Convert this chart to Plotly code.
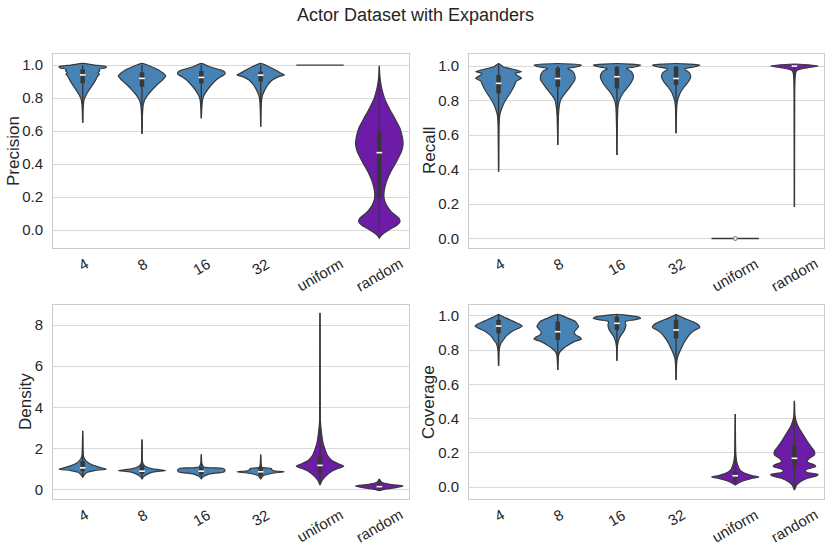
import plotly.graph_objects as go

# ---------------- data ----------------
categories = ["4", "8", "16", "32", "uniform", "random"]
metrics = ["Precision", "Recall", "Density", "Coverage"]

# violin outlines: value levels (top -> bottom) and relative half-widths (1 = widest)
precision_4_y = [1.01, 1.0, 0.99, 0.982, 0.975, 0.965, 0.955, 0.945, 0.93, 0.91, 0.88, 0.85, 0.82, 0.79, 0.76, 0.72, 0.68, 0.65]
precision_4_w = [0.0, 0.5, 1.0, 0.95, 0.7, 0.72, 0.65, 0.7, 0.62, 0.55, 0.42, 0.28, 0.15, 0.06, 0.03, 0.015, 0.01, 0.0]
precision_8_y = [1.01, 0.99, 0.97, 0.95, 0.935, 0.909, 0.879, 0.848, 0.818, 0.788, 0.758, 0.70, 0.64, 0.582]
precision_8_w = [0.0, 0.4, 0.7, 0.9, 1.0, 0.86, 0.62, 0.42, 0.24, 0.11, 0.05, 0.02, 0.01, 0.0]
precision_16_y = [1.01, 0.99, 0.97, 0.96, 0.945, 0.93, 0.909, 0.879, 0.848, 0.818, 0.788, 0.74, 0.677]
precision_16_w = [0.0, 0.35, 0.83, 0.97, 1.0, 0.83, 0.62, 0.42, 0.25, 0.12, 0.05, 0.02, 0.0]
precision_32_y = [1.01, 0.99, 0.97, 0.95, 0.94, 0.93, 0.909, 0.879, 0.848, 0.818, 0.788, 0.72, 0.626]
precision_32_w = [0.0, 0.35, 0.62, 0.86, 1.0, 0.76, 0.49, 0.3, 0.17, 0.08, 0.04, 0.015, 0.0]
precision_uniform_y = [1.0]
precision_uniform_w = [1.0]
precision_random_y = [0.99, 0.939, 0.899, 0.859, 0.798, 0.737, 0.677, 0.616, 0.556, 0.515, 0.475, 0.414, 0.354, 0.293, 0.232, 0.192, 0.151, 0.111, 0.071, 0.051, 0.03, 0.0, -0.03, -0.05]
precision_random_w = [0.0, 0.02, 0.05, 0.1, 0.22, 0.42, 0.65, 0.87, 0.98, 1.0, 0.93, 0.72, 0.48, 0.3, 0.2, 0.2, 0.3, 0.5, 0.83, 0.87, 0.75, 0.4, 0.1, 0.0]

recall_4_y = [1.015, 0.996, 0.977, 0.967, 0.958, 0.944, 0.929, 0.913, 0.890, 0.861, 0.832, 0.803, 0.774, 0.745, 0.716, 0.658, 0.55, 0.388]
recall_4_w = [0.0, 0.2, 0.76, 0.97, 0.7, 0.8, 0.97, 0.75, 0.68, 0.57, 0.44, 0.3, 0.19, 0.11, 0.05, 0.02, 0.01, 0.0]
recall_8_y = [1.015, 1.006, 0.996, 0.986, 0.971, 0.948, 0.919, 0.890, 0.861, 0.832, 0.803, 0.774, 0.716, 0.62, 0.542]
recall_8_w = [0.0, 1.0, 0.83, 0.42, 0.62, 0.72, 0.72, 0.58, 0.42, 0.25, 0.12, 0.07, 0.03, 0.01, 0.0]
recall_16_y = [1.015, 1.006, 0.996, 0.986, 0.967, 0.938, 0.909, 0.880, 0.851, 0.822, 0.793, 0.755, 0.6, 0.484]
recall_16_w = [0.0, 1.0, 0.8, 0.4, 0.62, 0.7, 0.62, 0.48, 0.3, 0.17, 0.08, 0.04, 0.01, 0.0]
recall_32_y = [1.015, 1.006, 0.996, 0.983, 0.963, 0.938, 0.909, 0.880, 0.851, 0.822, 0.793, 0.755, 0.61]
recall_32_w = [0.0, 1.0, 0.8, 0.35, 0.55, 0.62, 0.52, 0.35, 0.2, 0.11, 0.05, 0.025, 0.0]
recall_uniform_y = [0.0]
recall_uniform_w = [1.0]
recall_random_y = [1.012, 1.0, 0.99, 0.98, 0.97, 0.95, 0.91, 0.85, 0.184]
recall_random_w = [0.0, 1.0, 0.55, 0.2, 0.08, 0.04, 0.02, 0.01, 0.0]

density_4_y = [2.86, 1.67, 1.51, 1.35, 1.19, 1.07, 1.01, 0.94, 0.86, 0.75, 0.65, 0.62]
density_4_w = [0.0, 0.03, 0.08, 0.2, 0.45, 0.8, 1.0, 0.5, 0.2, 0.08, 0.02, 0.0]
density_8_y = [2.44, 1.4, 1.26, 1.14, 1.02, 0.94, 0.88, 0.78, 0.66, 0.53]
density_8_w = [0.0, 0.02, 0.05, 0.15, 0.45, 1.0, 0.5, 0.25, 0.08, 0.0]
density_16_y = [1.72, 1.3, 1.11, 1.05, 0.97, 0.87, 0.78, 0.66, 0.53]
density_16_w = [0.0, 0.02, 0.1, 0.9, 1.0, 0.95, 0.35, 0.1, 0.0]
density_32_y = [1.71, 1.25, 1.1, 1.04, 1.0, 0.93, 0.88, 0.81, 0.70, 0.53]
density_32_w = [0.0, 0.02, 0.05, 0.45, 0.45, 0.55, 1.0, 0.5, 0.12, 0.0]
density_uniform_y = [8.58, 3.3, 2.81, 2.32, 2.0, 1.67, 1.43, 1.26, 1.15, 1.02, 0.91, 0.78, 0.62, 0.45, 0.24]
density_uniform_w = [0.0, 0.02, 0.06, 0.12, 0.2, 0.32, 0.5, 0.8, 1.0, 0.7, 0.5, 0.35, 0.2, 0.08, 0.0]
density_random_y = [0.53, 0.37, 0.26, 0.19, 0.11, 0.05, -0.03]
density_random_w = [0.0, 0.1, 0.5, 1.0, 0.7, 0.3, 0.0]

coverage_4_y = [1.01, 1.006, 0.986, 0.967, 0.951, 0.941, 0.928, 0.916, 0.898, 0.879, 0.859, 0.840, 0.820, 0.791, 0.75, 0.708]
coverage_4_w = [0.0, 0.05, 0.35, 0.65, 0.9, 1.0, 0.85, 0.65, 0.45, 0.3, 0.2, 0.1, 0.05, 0.02, 0.01, 0.0]
coverage_8_y = [1.01, 1.006, 0.986, 0.967, 0.938, 0.908, 0.889, 0.875, 0.865, 0.850, 0.830, 0.811, 0.791, 0.772, 0.73, 0.684]
coverage_8_w = [0.0, 0.1, 0.45, 0.75, 0.88, 0.7, 0.75, 0.95, 1.0, 0.7, 0.45, 0.25, 0.1, 0.04, 0.015, 0.0]
coverage_16_y = [1.01, 1.006, 0.996, 0.986, 0.977, 0.967, 0.947, 0.928, 0.908, 0.889, 0.869, 0.840, 0.811, 0.738]
coverage_16_w = [0.0, 0.3, 0.85, 1.0, 0.7, 0.35, 0.38, 0.35, 0.28, 0.18, 0.1, 0.04, 0.015, 0.0]
coverage_32_y = [1.01, 1.006, 0.986, 0.967, 0.947, 0.932, 0.918, 0.898, 0.869, 0.840, 0.811, 0.781, 0.752, 0.713, 0.626]
coverage_32_w = [0.0, 0.05, 0.35, 0.7, 0.95, 1.0, 0.8, 0.62, 0.45, 0.32, 0.22, 0.12, 0.05, 0.02, 0.0]
coverage_uniform_y = [0.427, 0.207, 0.158, 0.129, 0.099, 0.080, 0.066, 0.058, 0.051, 0.037, 0.021, 0.012]
coverage_uniform_w = [0.0, 0.02, 0.05, 0.1, 0.2, 0.4, 0.75, 1.0, 0.7, 0.35, 0.1, 0.0]
coverage_random_y = [0.503, 0.421, 0.382, 0.343, 0.304, 0.265, 0.236, 0.208, 0.189, 0.165, 0.146, 0.129, 0.120, 0.105, 0.094, 0.085, 0.074, 0.066, 0.051, 0.031, 0.012, -0.017]
coverage_random_w = [0.0, 0.02, 0.08, 0.2, 0.38, 0.55, 0.7, 0.85, 0.85, 0.6, 0.55, 0.85, 0.9, 0.55, 0.45, 0.55, 1.0, 0.95, 0.55, 0.25, 0.1, 0.0]

# inner box statistics per category: whisker low, q1, median, q3, whisker high
precision_low = [0.65, 0.582, 0.677, 0.626, 1.0, 0.0]
precision_q1 = [0.89, 0.869, 0.889, 0.90, 1.0, 0.192]
precision_med = [0.94, 0.919, 0.925, 0.939, 1.0, 0.469]
precision_q3 = [0.974, 0.956, 0.965, 0.96, 1.0, 0.596]
precision_high = [1.0, 1.0, 1.0, 1.0, 1.0, 0.996]

recall_low = [0.388, 0.542, 0.484, 0.61, 0.0, 0.184]
recall_q1 = [0.841, 0.88, 0.87, 0.89, 0.0, 0.995]
recall_med = [0.90, 0.928, 0.938, 0.928, 0.0, 1.0]
recall_q3 = [0.948, 0.99, 0.996, 0.996, 0.0, 1.0]
recall_high = [1.015, 1.0, 1.0, 1.0, 0.0, 1.0]

density_low = [0.62, 0.53, 0.6, 0.53, 0.24, -0.03]
density_q1 = [0.91, 0.78, 0.74, 0.70, 0.78, 0.05]
density_med = [1.07, 0.91, 0.91, 0.88, 1.19, 0.16]
density_q3 = [1.4, 1.19, 1.1, 1.07, 1.67, 0.29]
density_high = [2.86, 2.44, 1.72, 1.71, 8.58, 0.53]

coverage_low = [0.708, 0.684, 0.738, 0.626, 0.012, -0.017]
coverage_q1 = [0.898, 0.86, 0.918, 0.869, 0.031, 0.129]
coverage_med = [0.941, 0.908, 0.957, 0.918, 0.066, 0.168]
coverage_q3 = [0.977, 0.967, 0.996, 0.977, 0.09, 0.242]
coverage_high = [1.01, 1.01, 1.01, 1.01, 0.427, 0.503]

# ---------------- styling ----------------
BLUE = "#4682B4"
PURPLE = "#6C1CA6"
EDGE = "#383838"
TEXT = "#262626"
GRID = "#dadada"
FRAME = "#cccccc"
FONT = "Arial, Liberation Sans, sans-serif"
HALF = 0.4
W, H = 831, 551


def px(p):
    return p / W


def py(p):
    return 1 - p / H


profiles = {
    "Precision": [(precision_4_y, precision_4_w), (precision_8_y, precision_8_w), (precision_16_y, precision_16_w),
                  (precision_32_y, precision_32_w), (precision_uniform_y, precision_uniform_w), (precision_random_y, precision_random_w)],
    "Recall": [(recall_4_y, recall_4_w), (recall_8_y, recall_8_w), (recall_16_y, recall_16_w),
               (recall_32_y, recall_32_w), (recall_uniform_y, recall_uniform_w), (recall_random_y, recall_random_w)],
    "Density": [(density_4_y, density_4_w), (density_8_y, density_8_w), (density_16_y, density_16_w),
                (density_32_y, density_32_w), (density_uniform_y, density_uniform_w), (density_random_y, density_random_w)],
    "Coverage": [(coverage_4_y, coverage_4_w), (coverage_8_y, coverage_8_w), (coverage_16_y, coverage_16_w),
                 (coverage_32_y, coverage_32_w), (coverage_uniform_y, coverage_uniform_w), (coverage_random_y, coverage_random_w)],
}
stats = {
    "Precision": (precision_low, precision_q1, precision_med, precision_q3, precision_high),
    "Recall": (recall_low, recall_q1, recall_med, recall_q3, recall_high),
    "Density": (density_low, density_q1, density_med, density_q3, density_high),
    "Coverage": (coverage_low, coverage_q1, coverage_med, coverage_q3, coverage_high),
}

# page-pixel boxes of the four panels: (left, right, top, bottom)
panels = [(53, 409, 54, 248), (469, 824, 54, 248), (53, 409, 305, 499), (469, 824, 305, 499)]
yranges = [[-0.109, 1.067], [-0.055, 1.07], [-0.44, 8.97], [-0.07, 1.064]]
ytickvals = [[0, 0.2, 0.4, 0.6, 0.8, 1.0]] * 2 + [[0, 2, 4, 6, 8], [0, 0.2, 0.4, 0.6, 0.8, 1.0]]
ytickfmt = [".1f", ".1f", "d", ".1f"]
title_x = [13, 429, 25, 428]

fig = go.Figure()
layout = {}
annotations = []

for k, metric in enumerate(metrics):
    sfx = "" if k == 0 else str(k + 1)
    xa, ya = "x" + sfx, "y" + sfx
    l, r, t, b = panels[k]
    for i, cat in enumerate(categories):
        color = BLUE if i < 4 else PURPLE
        ys, ws = profiles[metric][i]
        if len(ys) == 1:
            fig.add_trace(go.Scatter(x=[i - HALF * ws[0], i + HALF * ws[0]], y=[ys[0], ys[0]], mode="lines",
                                     line=dict(color=EDGE, width=1.3), xaxis=xa, yaxis=ya,
                                     hoverinfo="skip", showlegend=False))
        else:
            xs = [i + HALF * w for w in ws] + [i - HALF * w for w in reversed(ws)]
            yy = list(ys) + list(reversed(ys))
            fig.add_trace(go.Scatter(x=xs, y=yy, mode="lines", fill="toself", fillcolor=color,
                                     line=dict(color=EDGE, width=1.2, shape="spline", smoothing=0.6),
                                     xaxis=xa, yaxis=ya, hoverinfo="skip", showlegend=False))
        lo, q1, med, q3, hi = (s[i] for s in stats[metric])
        if hi > lo:
            fig.add_trace(go.Scatter(x=[i, i], y=[lo, hi], mode="lines", line=dict(color=EDGE, width=1.4),
                                     xaxis=xa, yaxis=ya, hoverinfo="skip", showlegend=False))
        if q3 > q1:
            fig.add_trace(go.Scatter(x=[i, i], y=[q1, q3], mode="lines", line=dict(color=EDGE, width=4.5),
                                     xaxis=xa, yaxis=ya, hoverinfo="skip", showlegend=False))
            fig.add_trace(go.Scatter(x=[i], y=[med], mode="markers",
                                     marker=dict(symbol="line-ew", size=4, line=dict(color="white", width=1.6)),
                                     xaxis=xa, yaxis=ya, hoverinfo="skip", showlegend=False))
        elif not (len(ys) == 1 and med == 1.0):
            fig.add_trace(go.Scatter(x=[i], y=[med], mode="markers",
                                     marker=dict(symbol="circle", size=4, color="#e6e6e6", line=dict(color="#7a7a7a", width=1)),
                                     xaxis=xa, yaxis=ya, hoverinfo="skip", showlegend=False))
        # rotated category label, centred under its tick
        annotations.append(dict(text=cat, x=i, xref=xa, y=0, yref=ya + " domain", xanchor="center", yanchor="top",
                                yshift=-4, textangle=-30, showarrow=False, font=dict(size=15, color=TEXT, family=FONT)))

    layout["xaxis" + sfx] = dict(domain=[px(l), px(r)], anchor=ya, range=[-0.5, 5.5], showgrid=False,
                                 showticklabels=False, zeroline=False, showline=True, mirror=True,
                                 linecolor=FRAME, linewidth=1, fixedrange=True)
    layout["yaxis" + sfx] = dict(domain=[py(b), py(t)], anchor=xa, range=yranges[k],
                                 tickvals=ytickvals[k], tickformat=ytickfmt[k], showgrid=True, gridcolor=GRID,
                                 gridwidth=1, zeroline=False, showline=True, mirror=True, linecolor=FRAME,
                                 linewidth=1, ticks="", ticklabelstandoff=6,
                                 tickfont=dict(size=15, color=TEXT, family=FONT), fixedrange=True)
    annotations.append(dict(text=metric, x=px(title_x[k]), xref="paper", y=py((t + b) / 2), yref="paper",
                            xanchor="center", yanchor="middle", textangle=-90, showarrow=False,
                            font=dict(size=17, color=TEXT, family=FONT)))

annotations.append(dict(text="Actor Dataset with Expanders", x=px(415), xref="paper", y=py(15), yref="paper",
                        xanchor="center", yanchor="middle", showarrow=False,
                        font=dict(size=18, color=TEXT, family=FONT)))

fig.update_layout(width=W, height=H, margin=dict(l=0, r=0, t=0, b=0), paper_bgcolor="white",
                  plot_bgcolor="white", annotations=annotations, showlegend=False, **layout)

# remove the browser's default page margin so the figure fills the window exactly
fig.write_html("out.html", config={"displayModeBar": False},
               post_script="document.body.style.margin='0';document.body.style.overflow='hidden';")
